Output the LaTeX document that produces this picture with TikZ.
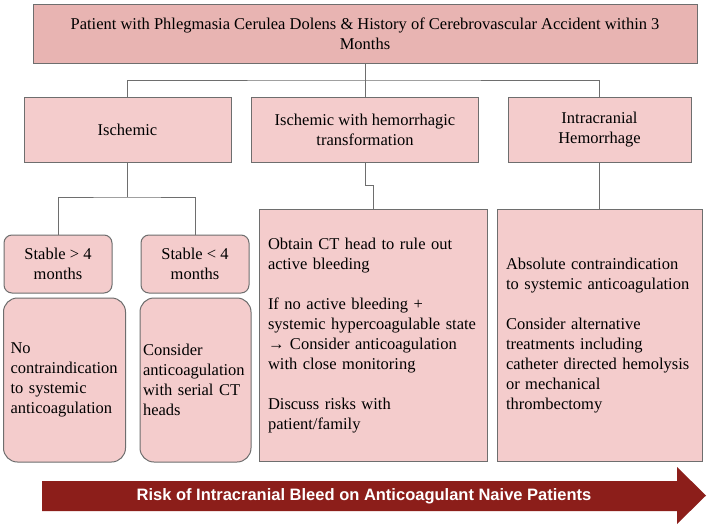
\documentclass[tikz,border=0pt]{standalone}
\usepackage{fontspec}
\setmainfont{Liberation Serif}
\newfontfamily\arrowfont{Liberation Sans}
\definecolor{toppink}{HTML}{E8B4B2}
\definecolor{boxpink}{HTML}{F4CCCC}
\definecolor{edgegray}{HTML}{6E6E6E}
\definecolor{riskred}{HTML}{8C1E1A}
\begin{document}
\begin{tikzpicture}
[x=1pt, y=-1pt, font=\fontsize{16.5}{20}\selectfont]
\tikzstyle{box}=[draw=edgegray, line width=1pt, fill=boxpink, inner sep=0pt]
\tikzstyle{headbox}=[box, fill=toppink, align=center, minimum width=664pt, minimum height=59pt]
\tikzstyle{catbox}=[box, align=center, minimum height=65pt]
\tikzstyle{stablebox}=[box, rounded corners=8pt, align=center, minimum width=108pt, minimum height=58pt]
\tikzstyle{notebox}=[box, rounded corners=14pt, align=left, minimum height=164pt]
\tikzstyle{planbox}=[box, align=left, inner xsep=9pt, minimum height=252pt]
\tikzstyle{wire}=[draw=edgegray, line width=1pt]

\fill[white] (0,0) rectangle (709,530);
\useasboundingbox (0,0) rectangle (709,530);

\node[headbox]	(pcd)	at (365,33.5)	{Patient with Phlegmasia Cerulea Dolens \& History of Cerebrovascular Accident within 3\\Months};

\node[catbox, minimum width=207pt]	(isch)	at (127.5,129.5)	{Ischemic};
\node[catbox, minimum width=227pt]	(hemtr)	at (365,129.5)	{Ischemic with hemorrhagic\\transformation};
\node[catbox, minimum width=183pt]	(ich)	at (599.5,129.5)	{Intracranial\\Hemorrhage};

\node[stablebox]	(over4)		at (58,264)		{Stable > 4\\months};
\node[stablebox]	(under4)	at (195,264)	{Stable < 4\\months};

\node[notebox, inner xsep=7pt, text width=108pt]	(noci)	at (64.5,380)	{No\\contraindication\\to systemic\\anticoagulation};
\node[notebox, inner xsep=3pt, text width=105pt]	(serial)	at (195.5,380)	{Consider\\anticoagulation\\with serial CT\\heads};

\node[planbox, text width=210pt]	(ctplan)	at (373,335.5)	{Obtain CT head to rule out\\active bleeding\\[20pt]If no active bleeding +\\systemic hypercoagulable state\\→ Consider anticoagulation\\with close monitoring\\[20pt]Discuss risks with\\patient/family};
\node[planbox, text width=187pt]	(altplan)	at (599.5,335.5)	{Absolute contraindication\\to systemic anticoagulation\\[20pt]Consider alternative\\treatments including\\catheter directed hemolysis\\or mechanical\\thrombectomy};

\coordinate	(bus)	at (365,80);
\coordinate	(isbus)	at (127.5,197);
\coordinate	(jog)	at (365,185);

\draw[wire]	(pcd.south)--(hemtr.north);
\draw[wire]	(isch.north) |- (bus) -| (ich.north);
\draw[wire]	(isch.south)--(isbus);
\draw[wire]	(over4.north) |- (isbus) -| (under4.north);
\draw[wire]	(hemtr.south)--(jog) -| (ctplan.north);
\draw[wire]	(ich.south)--(altplan.north);

\fill[riskred]	(42,481)--(677,481)--(677,467)--(706,495.5)--(677,524)--(677,511)--(42,511)--cycle;
\node[text=white, font=\arrowfont\bfseries\fontsize{16.5}{19}\selectfont]	(risk)	at (364,496)	{Risk of Intracranial Bleed on Anticoagulant Naive Patients};
\end{tikzpicture}
\end{document}
